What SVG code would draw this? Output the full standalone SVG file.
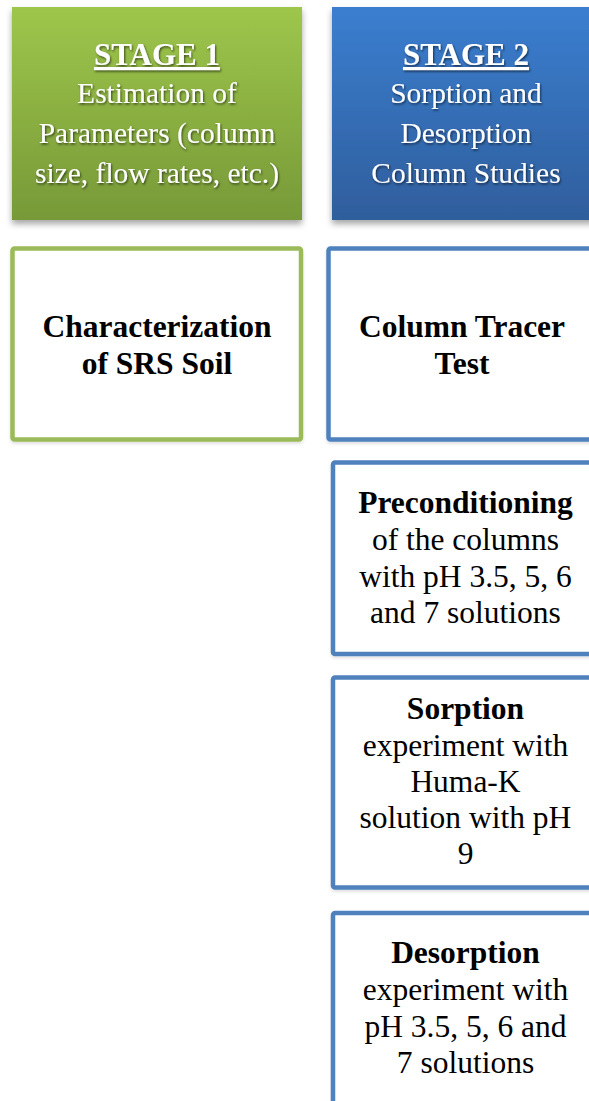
<svg xmlns="http://www.w3.org/2000/svg" width="589" height="1101" viewBox="0 0 589 1101">
<style>
.t{font-family:"Liberation Serif","Times New Roman",serif;text-anchor:middle}
.w{fill:#ffffff;font-size:29.5px}
.h{fill:#ffffff;font-size:31px;font-weight:bold;text-decoration:underline}
.b{fill:#000000;font-size:31.5px;font-weight:bold}
.r{fill:#000000;font-size:31.5px}
.g{fill:#ffffff;stroke:#9bbb59;stroke-width:4.5}
.bl{fill:#ffffff;stroke:#4f81bd;stroke-width:4.5}
</style>
<defs>
<linearGradient id="gg" x1="0" y1="0" x2="0" y2="1">
<stop offset="0" stop-color="#9ec64b"/>
<stop offset="1" stop-color="#779938"/>
</linearGradient>
<linearGradient id="bg" x1="0" y1="0" x2="0" y2="1">
<stop offset="0" stop-color="#3b7ed0"/>
<stop offset="1" stop-color="#2f5e9c"/>
</linearGradient>
<filter id="sh" x="-10%" y="-10%" width="120%" height="130%">
<feDropShadow dx="0" dy="4" stdDeviation="3" flood-color="#000" flood-opacity="0.35"/>
</filter>
<filter id="ts" x="-10%" y="-20%" width="120%" height="140%">
<feDropShadow dx="1" dy="1.5" stdDeviation="1" flood-color="#000" flood-opacity="0.6"/>
</filter>
<filter id="bs" x="-10%" y="-10%" width="120%" height="120%">
<feDropShadow dx="0" dy="2" stdDeviation="1.5" flood-color="#000" flood-opacity="0.12"/>
</filter>
</defs>
<rect width="589" height="1101" fill="#ffffff"/>
<g id="stage1">
<rect x="12" y="7" width="290" height="213" fill="url(#gg)" filter="url(#sh)"/>
<g filter="url(#ts)">
<text class="t h" x="157" y="65">STAGE 1</text>
<text class="t w" x="157" y="103">Estimation of</text>
<text class="t w" x="157" y="143">Parameters (column</text>
<text class="t w" x="157" y="183">size, flow rates, etc.)</text>
</g>
</g>
<g id="stage2">
<rect x="332" y="7" width="270" height="213" fill="url(#bg)" filter="url(#sh)"/>
<g filter="url(#ts)">
<text class="t h" x="466" y="65">STAGE 2</text>
<text class="t w" x="466" y="103">Sorption and</text>
<text class="t w" x="466" y="143">Desorption</text>
<text class="t w" x="466" y="183">Column Studies</text>
</g>
</g>
<g id="characterization">
<rect class="g" x="12.5" y="248.5" width="288.5" height="191" rx="2" filter="url(#bs)"/>
<text class="t b" x="157" y="337">Characterization</text>
<text class="t b" x="157" y="374">of SRS Soil</text>
</g>
<g id="tracer">
<rect class="bl" x="328.5" y="248.5" width="280" height="191" rx="2" filter="url(#bs)"/>
<text class="t b" x="462" y="337">Column Tracer</text>
<text class="t b" x="462" y="374">Test</text>
</g>
<g id="preconditioning">
<rect class="bl" x="333" y="462.5" width="280" height="191.5" rx="2" filter="url(#bs)"/>
<text class="t b" x="465.5" y="513">Preconditioning</text>
<text class="t r" x="465.5" y="550">of the columns</text>
<text class="t r" x="465.5" y="587">with pH 3.5, 5, 6</text>
<text class="t r" x="465.5" y="623">and 7 solutions</text>
</g>
<g id="sorption">
<rect class="bl" x="333" y="677.5" width="280" height="210" rx="2" filter="url(#bs)"/>
<text class="t b" x="465.5" y="719">Sorption</text>
<text class="t r" x="465.5" y="756">experiment with</text>
<text class="t r" x="465.5" y="792">Huma-K</text>
<text class="t r" x="465.5" y="828">solution with pH</text>
<text class="t r" x="465.5" y="864">9</text>
</g>
<g id="desorption">
<rect class="bl" x="333" y="913" width="280" height="210" rx="2" filter="url(#bs)"/>
<text class="t b" x="465.5" y="963">Desorption</text>
<text class="t r" x="465.5" y="1000">experiment with</text>
<text class="t r" x="465.5" y="1037">pH 3.5, 5, 6 and</text>
<text class="t r" x="465.5" y="1073">7 solutions</text>
</g>
<g id="connectors"></g>
</svg>
